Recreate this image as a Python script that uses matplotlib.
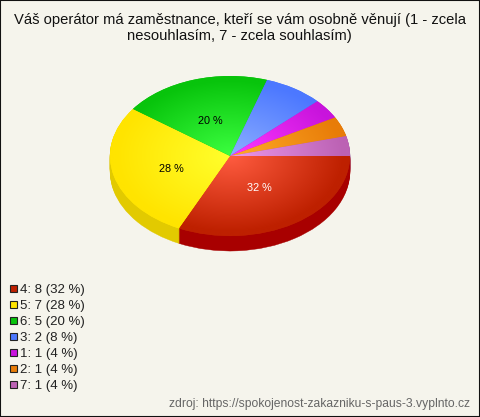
import numpy as np
import matplotlib
matplotlib.use("Agg")
import matplotlib.pyplot as plt
from matplotlib.colors import LinearSegmentedColormap
from matplotlib.patches import Rectangle

plt.rcParams['font.family'] = ['Liberation Sans', 'DejaVu Sans']

title_lines = ["Váš operátor má zaměstnance, kteří se vám osobně věnují (1 - zcela",
               "nesouhlasím, 7 - zcela souhlasím)"]
source = "zdroj: https://spokojenost-zakazniku-s-paus-3.vyplnto.cz"
categories = ["4", "5", "6", "3", "1", "2", "7"]
counts = [8, 7, 5, 2, 1, 1, 1]
percents = [32, 28, 20, 8, 4, 4, 4]
rim_colors = ["#BE2000", "#FFE400", "#08C40C", "#4C78FF", "#C814DC", "#E87C08", "#BC62B4"]
mid_colors = ["#FF5C40", "#FFFF2C", "#3CFF40", "#8CAEFF", "#FF38FF", "#FFAC28", "#EC98EC"]
side_colors = ["#A80000", "#E2CA00", "#069A08", "#3A5CC8", "#9A10AC", "#B86006", "#94509A"]
legend_colors = ["#BE2000", "#FFE400", "#08C40C", "#4C78FF", "#C814DC", "#E87C08", "#BC62B4"]
bg = "#F5F4EC"
W, H = 480, 417
cx, cy, rx, ry, depth = 230, 156, 120, 80, 15

fig = plt.figure(figsize=(W / 100, H / 100), dpi=100, facecolor=bg)

# pie axes: unit circle is squeezed into the ellipse
ax = fig.add_axes([(cx - rx) / W, 1 - (cy + ry) / H, 2 * rx / W, 2 * ry / H])
ax.patch.set_alpha(0)

# side of the pie, same pie pushed down pixel by pixel
for d in range(depth, 0, -1):
    side, _ = ax.pie(counts, startangle=0, counterclock=False, radius=1, center=(0, -d / ry))
    for w, c in zip(side, side_colors):
        w.set_facecolor(c)
        w.set_edgecolor(c)
        w.set_linewidth(0.3)

# top with radial gradient per slice
top, _ = ax.pie(counts, startangle=0, counterclock=False, radius=1)
xx, yy = np.meshgrid(np.linspace(-1, 1, 500), np.linspace(-1, 1, 500))
rr = np.sqrt(xx ** 2 + yy ** 2)
for i, w in enumerate(top):
    w.set_facecolor(rim_colors[i])
    w.set_edgecolor("none")
    cmap = LinearSegmentedColormap.from_list("s%d" % i, [mid_colors[i], rim_colors[i]])
    im = ax.imshow(rr, extent=(-1, 1, -1, 1), origin="lower", cmap=cmap, vmin=0, vmax=0.95,
                   aspect="auto", zorder=3, interpolation="bilinear")
    im.set_clip_path(w)

ax.set_aspect("auto")
ax.set_xlim(-1, 1)
ax.set_ylim(-1, 1)
for art in ax.patches:
    art.set_clip_on(False)
ax.axis("off")
ax.set_position([(cx - rx) / W, 1 - (cy + ry) / H, 2 * rx / W, 2 * ry / H])

# overlay in pixel coordinates for text and legend
ov = fig.add_axes([0, 0, 1, 1], facecolor="none")
ov.set_xlim(0, W)
ov.set_ylim(H, 0)
ov.set_xticks([])
ov.set_yticks([])
for s in ov.spines.values():
    s.set_color("#111111")
    s.set_linewidth(1.5)

ov.text(W / 2 - 0.5, 20, title_lines[0], ha="center", va="center", fontsize=10.6, color="#111111")
ov.text(W / 2 - 0.5, 36, title_lines[1], ha="center", va="center", fontsize=10.6, color="#111111")

ov.text(259, 188, "%d %%" % percents[0], ha="center", va="center", fontsize=7.8, color="white")
ov.text(171, 169, "%d %%" % percents[1], ha="center", va="center", fontsize=7.8, color="black")
ov.text(210, 121, "%d %%" % percents[2], ha="center", va="center", fontsize=7.8, color="black")

for i in range(len(categories)):
    y = 289 + 16 * i
    ov.add_patch(Rectangle((9.5, y - 3.7), 7, 7, facecolor=legend_colors[i], edgecolor="#222222", linewidth=0.8))
    ov.text(20, y + 1, "%s: %d (%d %%)" % (categories[i], counts[i], percents[i]),
            ha="left", va="center", fontsize=9.5, color="#222222")

ov.text(470, 404.5, source, ha="right", va="center", fontsize=8.7, color="#666666")

fig.savefig("out.png", dpi=100, facecolor=bg)
